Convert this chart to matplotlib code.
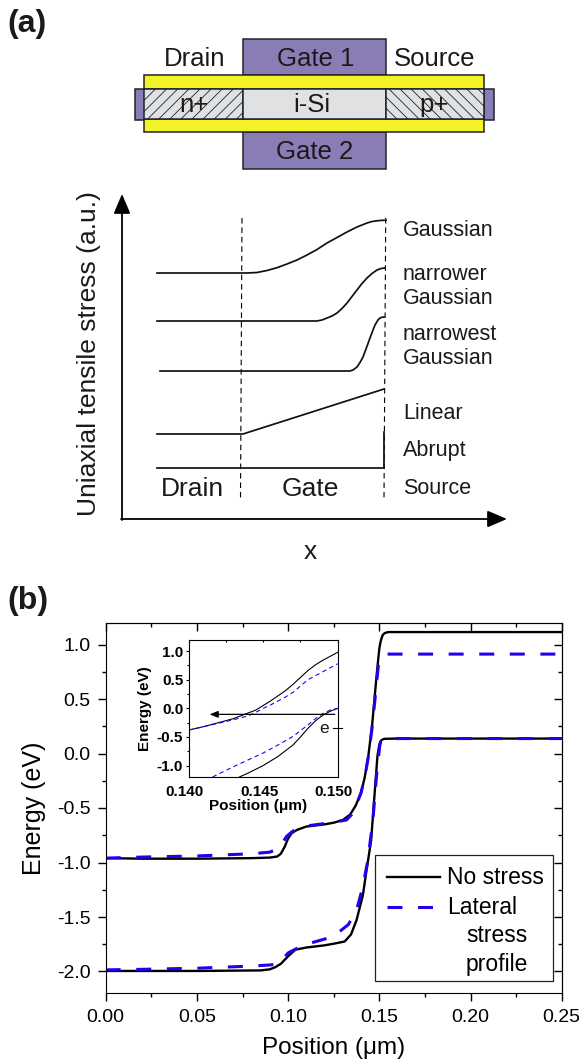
#plot.py
#
#Device scheme with lateral stress profiles (a) and band diagram with inset (b)

import matplotlib
matplotlib.use('Agg')
import matplotlib.pyplot as plt
from matplotlib.patches import Rectangle
from matplotlib.transforms import ScaledTranslation

plt.rcParams['font.family'] = ['Liberation Sans', 'DejaVu Sans']
plt.rcParams['hatch.linewidth'] = 0.6

W = 581.
H = 1062.

#==================================================================================================
#			DATA
#==================================================================================================
#Stress profiles of panel (a), in figure pixels
gauss_x = [157, 247, 257, 267, 277, 287, 297, 307, 317, 327, 337, 347, 357, 367, 372, 377, 381, 386]
gauss_y = [273, 273, 272.5, 270.5, 267.7, 264, 260, 255, 249.5, 243, 237.5, 232, 227, 223, 221.5, 220.8, 220.4, 220.2]
narrower_x = [157, 317, 322, 327, 332, 337, 342, 347, 352, 357, 362, 367, 372, 377, 381, 385]
narrower_y = [321, 321, 320, 318, 316, 313, 308.5, 303, 296.5, 290, 283.5, 278, 273.5, 270, 268.5, 268]
narrowest_x = [160, 350, 353, 357, 360, 363, 366, 370, 373, 375, 378, 380, 382, 384]
narrowest_y = [371, 371, 370, 367, 362.5, 357, 349, 338, 330, 325, 320, 318, 317.3, 317]
linear_x = [157, 243, 384]
linear_y = [434, 434, 389]
abrupt_x = [157, 384, 384]
abrupt_y = [468, 468, 432]

#Band edges of panel (b)
cb_x = [0, 0.02, 0.05, 0.08, 0.09, 0.094, 0.096, 0.098, 0.10, 0.102, 0.105, 0.11, 0.12, 0.125, 0.13, 0.134, 0.137,
        0.14, 0.142, 0.144, 0.146, 0.1485, 0.1495, 0.15, 0.1505, 0.151, 0.1515, 0.152, 0.153, 0.154, 0.155, 0.16, 0.20,
        0.25]
cb_y = [-0.96, -0.965, -0.965, -0.96, -0.955, -0.945, -0.92, -0.86, -0.78, -0.73, -0.70, -0.67, -0.65, -0.635, -0.61,
        -0.56, -0.48, -0.36, -0.22, -0.02, 0.25, 0.71, 0.88, 0.96, 1.01, 1.045, 1.07, 1.09, 1.105, 1.11, 1.114, 1.114,
        1.114, 1.114]
cb_st_x = [0, 0.02, 0.05, 0.08, 0.09, 0.095, 0.0992, 0.102, 0.1047, 0.11, 0.119, 0.125, 0.132, 0.1348, 0.137, 0.14,
           0.142, 0.144, 0.146, 0.148, 0.1495, 0.15, 0.1505, 0.151, 0.152, 0.153, 0.154, 0.157, 0.20, 0.25]
cb_st_y = [-0.96, -0.95, -0.94, -0.92, -0.905, -0.87, -0.76, -0.72, -0.69, -0.665, -0.645, -0.63, -0.61, -0.56, -0.49,
           -0.36, -0.22, -0.03, 0.23, 0.56, 0.81, 0.845, 0.87, 0.885, 0.90, 0.908, 0.912, 0.912, 0.912, 0.912]
vb_x = [0, 0.05, 0.085, 0.09, 0.093, 0.096, 0.10, 0.104, 0.11, 0.12, 0.125, 0.131, 0.1345, 0.1375, 0.141, 0.143, 0.1455,
        0.1476, 0.149, 0.1495, 0.15, 0.1505, 0.151, 0.152, 0.153, 0.16, 0.20, 0.25]
vb_y = [-1.995, -1.995, -1.99, -1.98, -1.96, -1.93, -1.86, -1.80, -1.78, -1.76, -1.745, -1.725, -1.66, -1.53, -1.3,
        -1.07, -0.8, -0.33, -0.02, 0.03, 0.08, 0.105, 0.12, 0.13, 0.135, 0.137, 0.137, 0.137]
vb_st_x = [0, 0.02, 0.05, 0.08, 0.09, 0.095, 0.10, 0.108, 0.1247, 0.133, 0.1375, 0.141, 0.1437, 0.1465, 0.1485, 0.1503,
           0.151, 0.152, 0.153, 0.155, 0.20, 0.25]
vb_st_y = [-1.985, -1.98, -1.97, -1.95, -1.94, -1.93, -1.83, -1.76, -1.68, -1.57, -1.44, -1.22, -0.98, -0.61, -0.2,
           0.08, 0.11, 0.13, 0.135, 0.137, 0.137, 0.137]

#Inset of panel (b)
in_cb_x = [.140, .141, .142, .143, .1438, .1445, .145, .1455, .146, .1465, .147, .1475, .148, .1485, .149, .1495, .150]
in_cb_y = [-.38, -.32, -.25, -.18, -.10, -.03, .05, .13, .22, .31, .42, .54, .66, .76, .84, .91, .98]
in_cb_st_x = [.140, .141, .142, .143, .144, .1445, .145, .1455, .146, .1465, .147, .1475, .148, .1485, .149, .1495, .150]
in_cb_st_y = [-.38, -.32, -.26, -.20, -.13, -.07, 0, .06, .13, .20, .28, .39, .50, .57, .64, .71, .78]
in_vb_x = [.1434, .144, .145, .146, .147, .1475, .148, .1485, .149, .1495, .150]
in_vb_y = [-1.2, -1.13, -1.0, -.84, -.64, -.50, -.35, -.22, -.12, -.05, 0]
in_vb_st_x = [.1416, .143, .144, .145, .146, .147, .1475, .148, .1485, .149, .1495, .150]
in_vb_st_y = [-1.2, -1.02, -.90, -.78, -.64, -.49, -.39, -.29, -.18, -.09, -.03, 0]

xticks_b = [0.00, 0.05, 0.10, 0.15, 0.20, 0.25]
xminor_b = [0.025, 0.075, 0.125, 0.175, 0.225]
yticks_b = [-2.0, -1.5, -1.0, -0.5, 0.0, 0.5, 1.0]
yminor_b = [-1.75, -1.25, -0.75, -0.25, 0.25, 0.75]
xticks_in = [0.140, 0.145, 0.150]
xminor_in = [0.1425, 0.1475]
yticks_in = [-1.0, -0.5, 0.0, 0.5, 1.0]
yminor_in = [-0.75, -0.25, 0.25, 0.75]

#Colors
purple = '#8a7db6'
yellow = '#f5f22a'
grey = '#e0e1e3'
edge = '#1f2328'
blue = '#2200ee'
ink = '#1a1a1a'

def px_axes( left, top, right, bottom ):
    return plt.axes( [left/W, 1-bottom/H, (right-left)/W, (bottom-top)/H] )

def overlay( zorder ):
    over = fig.add_axes( [0, 0, 1, 1], zorder=zorder )
    over.set_xlim( 0, W )
    over.set_ylim( H, 0 )
    over.axis( 'off' )
    return over

#==================================================================================================
#			PANEL (a)
#==================================================================================================
fig = plt.figure( figsize=(W/100, H/100), dpi=100 )

sch = overlay( 0 )

#Device layers
def box( x0, y0, x1, y1, color, **kw ):
    sch.add_patch( Rectangle( (x0, y0), x1-x0, y1-y0, facecolor=color, edgecolor=edge, linewidth=1.1, **kw ) )

box( 135, 89, 145, 120, purple )
box( 484, 89, 494, 120, purple )
box( 243, 39, 386, 75, purple )
box( 243, 132, 386, 169, purple )
box( 144, 75, 484, 89, yellow )
box( 144, 119, 484, 132, yellow )
box( 144, 89, 243, 119, grey, hatch='///' )
box( 243, 89, 386, 119, grey )
box( 386, 89, 484, 119, grey, hatch='\\\\\\' )

for txt, x, y in [("Drain", 194.5, 59), ("Gate 1", 316, 59), ("Source", 434.5, 59), ("n+", 194, 105), ("i-Si", 312, 105),
                  ("p+", 434, 105), ("Gate 2", 315, 152)]:
    sch.text( x, y, txt, fontsize=18.5, ha='center', va='center', color=ink )

#Stress axes
head = dict( arrowstyle='-|>,head_width=0.32,head_length=0.75', color='black', lw=1.3, shrinkA=0, shrinkB=0,
             mutation_scale=16 )
sch.annotate( '', xy=(122, 194), xytext=(122, 520), arrowprops=head )
sch.annotate( '', xy=(507, 519), xytext=(121, 519), arrowprops=head )
sch.plot( [242, 240.5], [218, 498], color='black', lw=0.8, ls=(0, (5, 3.5)) )
sch.plot( [385.7, 384], [218, 498], color='black', lw=0.8, ls=(0, (5, 3.5)) )

#Stress profiles
for px, py in [(gauss_x, gauss_y), (narrower_x, narrower_y), (narrowest_x, narrowest_y), (linear_x, linear_y),
               (abrupt_x, abrupt_y)]:
    sch.plot( px, py, color='#111111', lw=1.25 )

for txt, y in [("Gaussian", 230.5), ("narrower", 274.5), ("Gaussian", 298.5), ("narrowest", 334.5), ("Gaussian", 358.5),
               ("Linear", 413.5), ("Abrupt", 450.5), ("Source", 488.5)]:
    sch.text( 403, y, txt, fontsize=15.5, ha='left', va='center', color=ink )
sch.text( 192.5, 489, "Drain", fontsize=19, ha='center', va='center', color=ink )
sch.text( 310, 489, "Gate", fontsize=19, ha='center', va='center', color=ink )
sch.text( 89, 354, "Uniaxial tensile stress (a.u.)", fontsize=19, rotation=90, ha='center', va='center', color=ink )
sch.text( 310, 552, "x", fontsize=19, ha='center', va='center', color=ink )
sch.text( 7, 24, "(a)", fontsize=23, fontweight='bold', ha='left', va='center', color=ink )
sch.text( 7, 601, "(b)", fontsize=23, fontweight='bold', ha='left', va='center', color=ink )

#==================================================================================================
#			PANEL (b)
#==================================================================================================
ax = px_axes( 105.7, 622.7, 561.7, 993.3 )
ax.plot( cb_x, cb_y, color='black', lw=1.7 )
ax.plot( vb_x, vb_y, color='black', lw=1.7 )
ax.plot( cb_st_x, cb_st_y, color=blue, lw=2.2, dashes=(4.9, 5.1) )
ax.plot( vb_st_x, vb_st_y, color=blue, lw=2.2, dashes=(4.9, 5.1) )
ax.set_xlim( 0, 0.25 )
ax.set_ylim( -2.2, 1.2 )
ax.set_xticks( xticks_b )
ax.set_xticklabels( ['%1.2f'%v for v in xticks_b] )
ax.set_yticks( yticks_b )
ax.set_yticklabels( ['%1.1f'%v for v in yticks_b] )
ax.set_xticks( xminor_b, minor=True )
ax.set_yticks( yminor_b, minor=True )
ax.tick_params( which='major', length=5.5, width=1, labelsize=14, pad=5.5 )
ax.tick_params( which='minor', length=3, width=1 )
ax.set_xlabel( "Position (μm)", fontsize=17.5, labelpad=8 )
ax.set_ylabel( "Energy (eV)", fontsize=18, labelpad=8 )

#Opposite side ticks pointing in
top_ax = ax.secondary_xaxis( 'top' )
top_ax.set_xticks( xticks_b )
top_ax.set_xticks( xminor_b, minor=True )
top_ax.tick_params( which='major', direction='in', length=5.5, width=1, labeltop=False )
top_ax.tick_params( which='minor', direction='in', length=3, width=1 )
right_ax = ax.secondary_yaxis( 'right' )
right_ax.set_yticks( yticks_b )
right_ax.set_yticks( yminor_b, minor=True )
right_ax.tick_params( which='major', direction='in', length=5.5, width=1, labelright=False )
right_ax.tick_params( which='minor', direction='in', length=3, width=1 )

#Legend
over = overlay( 5 )
over.add_patch( Rectangle( (375, 855), 178, 126, facecolor='white', edgecolor='#222222', linewidth=0.9 ) )
over.plot( [387, 440], [877, 877], color='black', lw=1.7 )
over.plot( [387, 434], [907, 907], color=blue, lw=2.2, dashes=(4.9, 5.1) )
for txt, x, y in [("No stress", 447, 878), ("Lateral", 447, 907), ("stress", 466, 935), ("profile", 466, 964)]:
    over.text( x, y, txt, fontsize=16.5, ha='left', va='center', color='black' )

#Inset
ins = px_axes( 188.7, 639.7, 337.7, 777 )
ins.plot( in_cb_x, in_cb_y, color='black', lw=0.8 )
ins.plot( in_vb_x, in_vb_y, color='black', lw=0.8 )
ins.plot( in_cb_st_x, in_cb_st_y, color=blue, lw=0.8, dashes=(4, 3) )
ins.plot( in_vb_st_x, in_vb_st_y, color=blue, lw=0.8, dashes=(4, 3) )
ins.annotate( '', xy=(0.1414, -0.105), xytext=(0.1498, -0.105),
              arrowprops=dict(arrowstyle='-|>,head_width=0.2,head_length=0.5', color='black', lw=0.9, shrinkA=0, shrinkB=0) )
ins.plot( [0.1497, 0.1503], [-0.35, -0.35], color='black', lw=0.8, clip_on=False )
ins.text( 0.1491, -0.35, "e", fontsize=12.5, ha='center', va='center', color=ink )
ins.set_xlim( 0.140, 0.150 )
ins.set_ylim( -1.2, 1.2 )
ins.set_xticks( xticks_in )
ins.set_xticklabels( ['%1.3f'%v for v in xticks_in] )
ins.set_xticks( xminor_in, minor=True )
ins.set_yticks( yticks_in )
ins.set_yticklabels( ['%1.1f'%v for v in yticks_in] )
ins.set_yticks( yminor_in, minor=True )
ins.tick_params( axis='y', which='major', length=2.5, width=0.8, labelsize=11, pad=1.5 )
ins.tick_params( axis='y', which='minor', length=1.5, width=0.8 )
ins.tick_params( axis='x', which='both', direction='in', bottom=False, top=True, length=1.5, width=0.8 )
ins.tick_params( axis='x', which='major', labelsize=11, pad=6 )
shift = ScaledTranslation( -4/100., 0, fig.dpi_scale_trans )
for lab in ins.get_xticklabels():
    lab.set_fontweight( 'bold' )
    lab.set_transform( lab.get_transform()+shift )
for lab in ins.get_yticklabels():
    lab.set_fontweight( 'bold' )
ins.set_xlabel( "Position (μm)", fontsize=11, fontweight='bold', labelpad=0, x=0.463 )
ins.set_ylabel( "Energy (eV)", fontsize=11, fontweight='bold', labelpad=3.5 )

plt.savefig( 'out.png', dpi=100 )
